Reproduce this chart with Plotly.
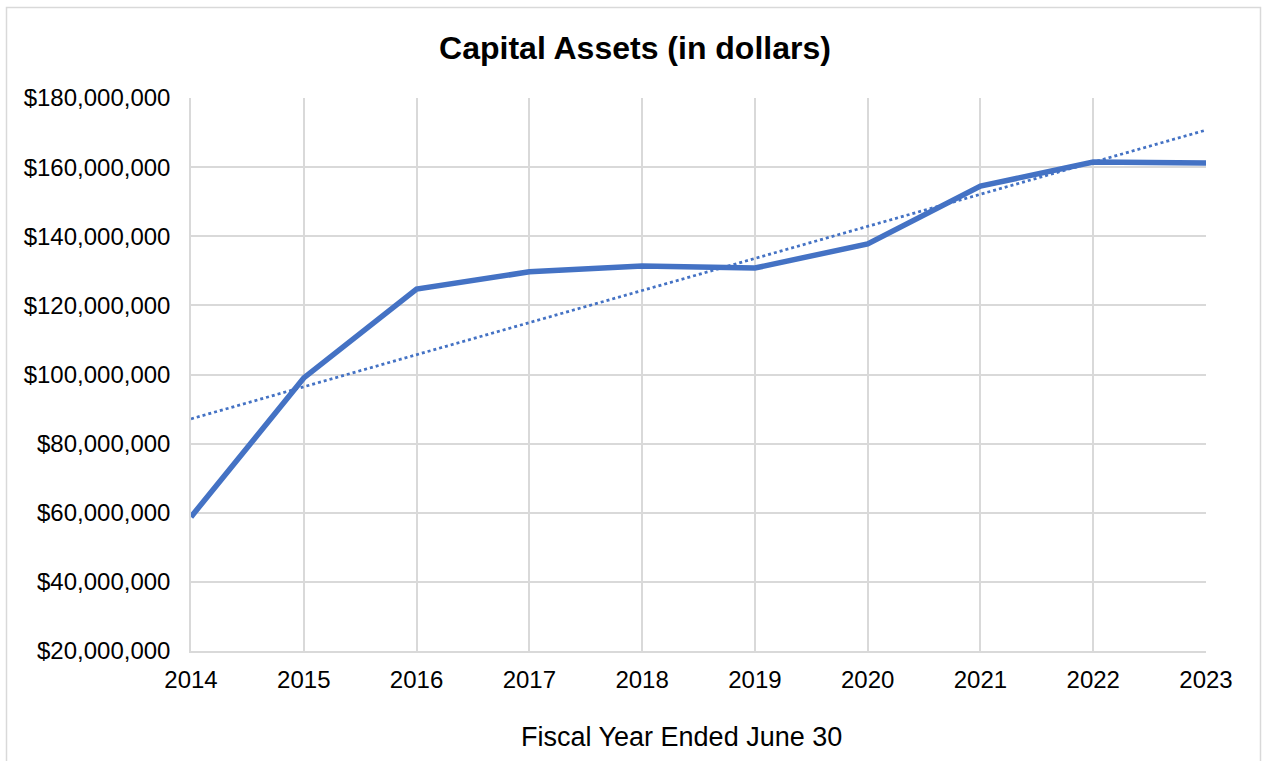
import numpy as np
import plotly.graph_objects as go

years = [2014, 2015, 2016, 2017, 2018, 2019, 2020, 2021, 2022, 2023]
capital_assets = [58.8e6, 99.0e6, 124.7e6, 129.7e6, 131.4e6, 130.8e6, 137.8e6, 154.5e6, 161.5e6, 161.2e6]
y_ticks = [20e6, 40e6, 60e6, 80e6, 100e6, 120e6, 140e6, 160e6, 180e6]

# Linear trendline fitted to the series
slope, intercept = np.polyfit(years, capital_assets, 1)
trend = [slope * yr + intercept for yr in years]

W, H = 1262, 761
L, R, T, B = 191, 56, 98, 110
pw, ph = W - L - R, H - T - B

def px_x(x):
    return (x - L) / pw

def px_y(y):
    return (H - B - y) / ph

BLUE = "#4472C4"
GRID = "#d9d9d9"
FONT = "Liberation Sans, Arial, sans-serif"

fig = go.Figure()
fig.add_trace(go.Scatter(
    x=years, y=capital_assets, mode="lines",
    line=dict(color=BLUE, width=5.5), hoverinfo="skip", showlegend=False,
))
fig.add_trace(go.Scatter(
    x=years, y=trend, mode="lines",
    line=dict(color=BLUE, width=2.75, dash="dot"), hoverinfo="skip", showlegend=False,
))

fig.update_layout(
    width=W, height=H,
    margin=dict(l=L, r=R, t=T, b=B),
    paper_bgcolor="white", plot_bgcolor="white",
    font=dict(family=FONT, color="black", size=24),
    title=dict(text="<b>Capital Assets (in dollars)</b>", x=635 / W, xref="container",
               xanchor="center", y=1 - 48 / H, yanchor="middle",
               font=dict(size=32, family=FONT, color="black")),
    xaxis=dict(range=[2014, 2023], tickmode="array", tickvals=years,
               ticktext=[str(y) for y in years], showgrid=True, gridcolor=GRID,
               gridwidth=1.5, zeroline=False, showline=True, linecolor=GRID,
               linewidth=1.5, ticks="", ticklabelstandoff=6, tickfont=dict(size=24)),
    yaxis=dict(range=[20e6, 180e6], tickmode="array", tickvals=y_ticks,
               ticktext=["${:,.0f}".format(v) for v in y_ticks], showgrid=True,
               gridcolor=GRID, gridwidth=1.5, zeroline=False, showline=True,
               linecolor=GRID, linewidth=1.5, ticks="", ticklabelstandoff=14,
               tickfont=dict(size=24)),
    shapes=[dict(type="rect", xref="paper", yref="paper",
                 x0=px_x(6.5), x1=px_x(1260.5), y0=px_y(800), y1=px_y(7.5),
                 line=dict(color=GRID, width=1.5), fillcolor="rgba(0,0,0,0)",
                 layer="below")],
    annotations=[dict(text="Fiscal Year Ended June 30", xref="paper", yref="paper",
                      x=px_x(681), y=px_y(737), xanchor="center", yanchor="middle",
                      showarrow=False, font=dict(size=27, family=FONT, color="black"))],
)

fig.write_html("out.html")
